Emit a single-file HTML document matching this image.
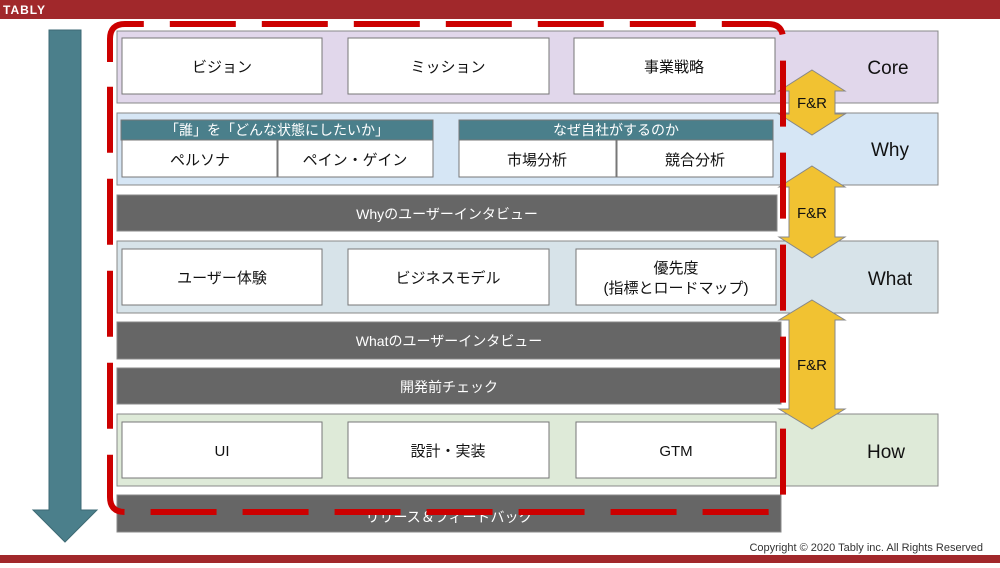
<!DOCTYPE html>
<html><head><meta charset="utf-8"><style>
body{margin:0;width:1000px;height:563px;overflow:hidden;background:#fff}
svg text{font-family:"Liberation Sans","Noto Sans CJK JP",sans-serif}
</style></head><body>
<svg width="1000" height="563" xmlns="http://www.w3.org/2000/svg">
<rect x="0" y="0" width="1000" height="19" fill="#a1282b"/>
<text x="3" y="14" font-size="12" fill="#fff" font-weight="bold" letter-spacing="1">TABLY</text>
<rect x="0" y="555" width="1000" height="8" fill="#a1282b"/>
<text x="983" y="551" font-size="11" fill="#333" text-anchor="end">Copyright © 2020 Tably inc. All Rights Reserved</text>
<polygon points="49,30 81,30 81,510 97,510 65,542 33,510 49,510" fill="#4b7f8b" stroke="#3d6a74"/>
<rect x="117" y="31" width="821" height="72" fill="#e1d7eb" stroke="#888"/>
<rect x="117" y="113" width="821" height="72" fill="#d6e6f5" stroke="#888"/>
<rect x="117" y="241" width="821" height="72" fill="#d7e3e9" stroke="#888"/>
<rect x="117" y="414" width="821" height="72" fill="#deead8" stroke="#888"/>
<g fill="#fff" stroke="#777">
<rect x="122" y="38" width="200" height="56"/><rect x="348" y="38" width="201" height="56"/><rect x="574" y="38" width="201" height="56"/>
<rect x="122" y="140" width="155" height="37"/><rect x="278" y="140" width="155" height="37"/>
<rect x="459" y="140" width="157" height="37"/><rect x="617" y="140" width="156" height="37"/>
<rect x="122" y="249" width="200" height="56"/><rect x="348" y="249" width="201" height="56"/><rect x="576" y="249" width="200" height="56"/>
<rect x="122" y="422" width="200" height="56"/><rect x="348" y="422" width="201" height="56"/><rect x="576" y="422" width="200" height="56"/>
</g>
<rect x="121" y="120" width="312" height="20" fill="#4a7f8b" stroke="#777"/>
<rect x="459" y="120" width="314" height="20" fill="#4a7f8b" stroke="#777"/>
<g fill="#666" stroke="#888">
<rect x="117" y="195" width="660" height="36"/>
<rect x="117" y="322" width="664" height="37"/>
<rect x="117" y="368" width="664" height="36"/>
<rect x="117" y="495" width="664" height="37"/>
</g>
<g font-size="15" fill="#111" text-anchor="middle">
<text x="222" y="72">ビジョン</text><text x="448" y="72">ミッション</text><text x="674" y="72">事業戦略</text>
<text x="200" y="165">ペルソナ</text><text x="355" y="165">ペイン・ゲイン</text>
<text x="537" y="165">市場分析</text><text x="695" y="165">競合分析</text>
<text x="222" y="283">ユーザー体験</text><text x="448" y="283">ビジネスモデル</text>
<text x="676" y="273">優先度</text><text x="676" y="293">(指標とロードマップ)</text>
<text x="222" y="456">UI</text><text x="448" y="456">設計・実装</text><text x="676" y="456">GTM</text>
</g>
<g font-size="14" fill="#fff" text-anchor="middle">
<text x="277" y="135">「誰」を「どんな状態にしたいか」</text>
<text x="616" y="135">なぜ自社がするのか</text>
<text x="447" y="219">Whyのユーザーインタビュー</text>
<text x="449" y="346">Whatのユーザーインタビュー</text>
<text x="449" y="392">開発前チェック</text>
<text x="449" y="522">リリース＆フィードバック</text>
</g>
<g font-size="19" fill="#111" text-anchor="middle">
<text x="888" y="74">Core</text><text x="890" y="156">Why</text><text x="890" y="285">What</text><text x="886" y="458">How</text>
</g>
<g fill="#f1c232" stroke="#888">
<polygon points="812,70 845,91 835,91 835,114 845,114 812,135 779,114 789,114 789,91 779,91"/>
<polygon points="812,166 845,187 835,187 835,237 845,237 812,258 779,237 789,237 789,187 779,187"/>
<polygon points="812,300 845,320 835,320 835,409 845,409 812,429 779,409 789,409 789,320 779,320"/>
</g>
<g font-size="15" fill="#111" text-anchor="middle">
<text x="812" y="108">F&amp;R</text><text x="812" y="218">F&amp;R</text><text x="812" y="370">F&amp;R</text>
</g>
<path d="M110,62 L110,39 Q110,24 125,24 L768,24 Q783,24 783,39 L783,497 Q783,512 768,512 L125,512 Q110,512 110,497 Z" fill="none" stroke="#cc0000" stroke-width="6" stroke-dasharray="66,26"/>
</svg>
</body></html>
